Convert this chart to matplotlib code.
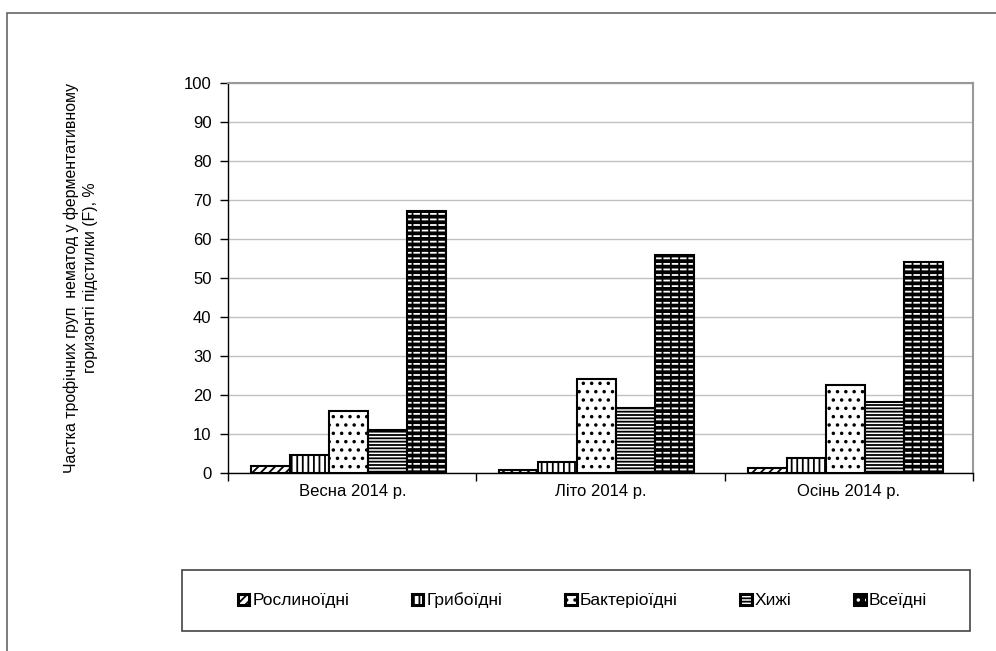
import numpy as np
import matplotlib
matplotlib.use("Agg")
import matplotlib.pyplot as plt
import matplotlib.patches as mpatches

plt.rcParams['font.family'] = ['Liberation Sans', 'DejaVu Sans']
plt.rcParams['hatch.linewidth'] = 1.3

seasons = ["Весна 2014 р.", "Літо 2014 р.", "Осінь 2014 р."]
groups = ["Рослиноїдні", "Грибоїдні", "Бактеріоїдні", "Хижі", "Всеїдні"]
roslynoidni = [1.9, 0.8, 1.3]
hryboidni = [4.6, 2.8, 3.8]
bakterioidni = [15.8, 24.0, 22.5]
khyzhi = [11.0, 16.7, 18.3]
vseidni = [67.2, 55.8, 54.0]
y_ticks = list(range(0, 101, 10))

series = [roslynoidni, hryboidni, bakterioidni, khyzhi, vseidni]
hatches = ['////', '|||', '..', '-----', None]

fig = plt.figure(figsize=(9.96, 6.51), dpi=100)
ax = fig.add_axes([0.229, 0.2735, 0.748, 0.599])

# outer frame (only top and left visible)
fig.patches.append(mpatches.Rectangle((0.007, -0.2), 1.2, 1.18, transform=fig.transFigure,
                                      fill=False, edgecolor='#666666', lw=1.2))

x = np.arange(len(seasons))
w = 0.157
handles = []
for i, vals in enumerate(series):
    pos = x + (i - 2) * w - 0.015
    if hatches[i] is not None:
        ax.bar(pos, vals, w, facecolor='white', edgecolor='black', hatch=hatches[i],
               lw=1.5, zorder=3)
        handles.append(mpatches.Patch(facecolor='white', edgecolor='black',
                                      hatch=hatches[i], lw=2.2))
    else:
        # black bar with white dashes
        ax.bar(pos, vals, w, facecolor='black', edgecolor='white', hatch='---',
               lw=0, zorder=3)
        ax.bar(pos, vals, w, fill=False, edgecolor='black', hatch='||',
               lw=1.5, zorder=4)
        handles.append((mpatches.Patch(facecolor='black', edgecolor='black', lw=2.2),
                        mpatches.Patch(fill=False, edgecolor='white', hatch='..', lw=0)))

ax.set_ylim(0, 100)
ax.set_xlim(-0.5, 2.5)
ax.set_yticks(y_ticks)
ax.set_xticks(x)
ax.set_xticklabels(seasons, fontsize=12)
ax.set_xticks([-0.5, 0.5, 1.5, 2.5], minor=True)
ax.tick_params(axis='x', which='major', length=0, pad=8)
ax.tick_params(axis='x', which='minor', length=6, direction='out', width=1)
ax.tick_params(axis='y', length=6, direction='out', width=1, labelsize=12, pad=6)
ax.yaxis.grid(True, color='#c0c0c0', lw=1)
ax.set_axisbelow(True)
for s in ['top', 'right']:
    ax.spines[s].set_color('#999999')
    ax.spines[s].set_linewidth(1.5)
for s in ['left', 'bottom']:
    ax.spines[s].set_color('black')
    ax.spines[s].set_linewidth(1)

ax.set_ylabel("Частка трофічних груп  нематод у ферментативному\nгоризонті підстилки (F), %",
              fontsize=11.4, labelpad=62, linespacing=1.3)

# legend box
fig.patches.append(mpatches.Rectangle((0.183, 0.031), 0.791, 0.093, transform=fig.transFigure,
                                      fill=False, edgecolor='#444444', lw=1.2))
leg = fig.legend(handles, groups, loc='center', bbox_to_anchor=(0.585, 0.0775),
                 ncol=5, frameon=False, fontsize=12.5,
                 handlelength=0.65, handleheight=0.65, handletextpad=0.2,
                 columnspacing=3.6)

fig.savefig('out.png', dpi=100)
